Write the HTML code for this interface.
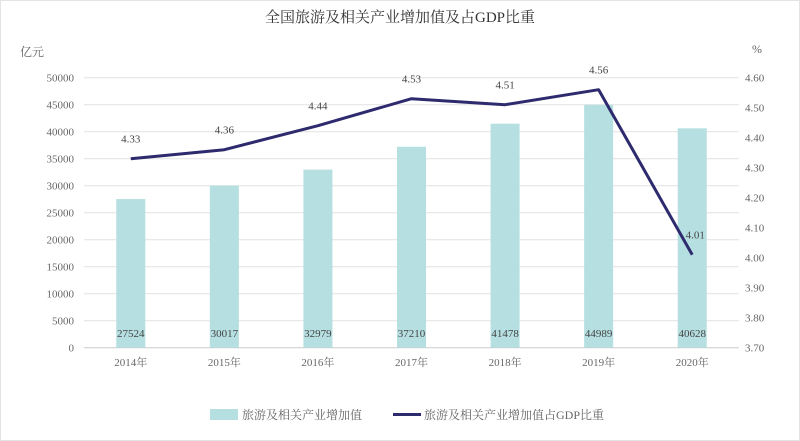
<!DOCTYPE html>
<html><head><meta charset="utf-8"><style>
html,body{margin:0;padding:0;background:#fff;}
svg{display:block;font-family:"Liberation Serif","Noto Serif CJK SC",serif;}
</style></head><body>
<svg id="chart" width="800" height="441" viewBox="0 0 800 441">
<rect x="0.5" y="0.5" width="799" height="440" fill="#fff" stroke="#e4e4e4"/>
<text x="400" y="22" text-anchor="middle" font-size="15" fill="#333">全国旅游及相关产业增加值及占GDP比重</text>
<text x="20" y="56" font-size="12" fill="#666">亿元</text>
<text x="752" y="53" font-size="12" fill="#666">%</text>
<g id="grid"></g><g id="bars"></g><g id="line"></g><g id="labels"></g>
<g>
<rect x="210" y="409" width="28" height="11" fill="#b5dfe0"/>
<text x="242" y="419" font-size="12" fill="#666">旅游及相关产业增加值</text>
<rect x="393" y="413" width="28" height="3" fill="#2e2a6e"/>
<text x="424" y="419" font-size="12" fill="#666">旅游及相关产业增加值占GDP比重</text>
</g>
</svg>
<script>
const categories=["2014年","2015年","2016年","2017年","2018年","2019年","2020年"];
const valueAdded=[27524,30017,32979,37210,41478,44989,40628];
const gdpShare=[4.33,4.36,4.44,4.53,4.51,4.56,4.01];
const leftTicks=[0,5000,10000,15000,20000,25000,30000,35000,40000,45000,50000];
const rightTicks=["3.70","3.80","3.90","4.00","4.10","4.20","4.30","4.40","4.50","4.60"];
const NS="http://www.w3.org/2000/svg";
const X0=84,X1=739,Y0=347.7,Y1=77.7;
const band=(X1-X0)/categories.length;
const xc=i=>X0+band*(i+0.5);
const yL=v=>Y0-(v/50000)*(Y0-Y1);
const yR=v=>Y0-((v-3.7)/0.9)*(Y0-Y1);
function mk(tag,attrs,parent,txt){const e=document.createElementNS(NS,tag);for(const k in attrs)e.setAttribute(k,attrs[k]);if(txt!==undefined)e.textContent=txt;document.getElementById(parent).appendChild(e);return e;}
leftTicks.forEach(t=>{
 let l=mk('line',{x1:X0,x2:X1,y1:yL(t),y2:yL(t),stroke:t===0?'#ccc':'#e2e2e2','stroke-width':1},'grid');
 
 
 let tx=mk('text',{x:74,y:yL(t)+4,'text-anchor':'end','font-size':11,fill:'#666'},'grid',String(t));
 
 
});
rightTicks.forEach(t=>{
 let tx=mk('text',{x:745,y:yR(parseFloat(t))+4,'font-size':11,fill:'#666'},'grid',t);
 
 
});
categories.forEach((c,i)=>{
 let tx=mk('text',{x:xc(i),y:366,'text-anchor':'middle','font-size':11,fill:'#666'},'grid',c);
 
 
});
valueAdded.forEach((v,i)=>{
 let r=mk('rect',{x:xc(i)-14.5,y:yL(v),width:29,height:Y0-yL(v),fill:'#b5dfe0'},'bars');
 
 
 let tx=mk('text',{x:xc(i),y:337,'text-anchor':'middle','font-size':11,fill:'#444'},'labels',String(v));
 
 
});
const pts=gdpShare.map((v,i)=>xc(i)+','+yR(v)).join(' ');
let pl=mk('polyline',{points:pts,fill:'none',stroke:'#2e2a6e','stroke-width':3,'stroke-linejoin':'round'},'line');


gdpShare.forEach((v,i)=>{
 let tx=mk('text',{x:xc(i)+(i===6?3:0),y:yR(v)-16,'text-anchor':'middle','font-size':11,fill:'#444'},'labels',v.toFixed(2));
 
 
});
</script>
</body></html>
